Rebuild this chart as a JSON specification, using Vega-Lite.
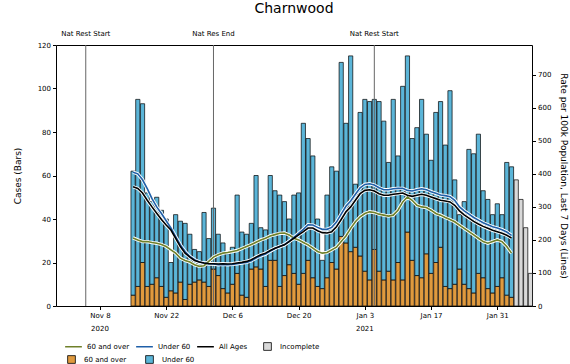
{
  "$schema": "https://vega.github.io/schema/vega-lite/v6.json",
  "width": 476,
  "height": 261,
  "autosize": "none",
  "padding": {"left": 56, "top": 45, "right": 38, "bottom": 58},
  "background": "white",
  "title": {"text": "Charnwood", "fontSize": 14, "fontWeight": "normal", "font": "DejaVu Sans", "anchor": "middle", "frame": "group", "offset": 3, "baseline": "alphabetic", "color": "black"},
  "config": {
    "font": "DejaVu Sans",
    "view": {"stroke": "black", "strokeWidth": 1},
    "axis": {"labelFontSize": 7, "titleFontSize": 9, "titleFontWeight": "normal", "labelColor": "black", "titleColor": "black", "tickColor": "black", "domain": false, "grid": false, "tickSize": 3.5, "labelPadding": 2},
    "legend": {"labelFontSize": 7, "labelColor": "black", "padding": 0, "labelOffset": 4}
  },
  "datasets": {
    "bars": [
      {"date":"2020-11-15T00:00","60 and over":5,"Under 60":57},
      {"date":"2020-11-16T00:00","60 and over":9,"Under 60":86},
      {"date":"2020-11-17T00:00","60 and over":20,"Under 60":73},
      {"date":"2020-11-18T00:00","60 and over":9,"Under 60":43},
      {"date":"2020-11-19T00:00","60 and over":10,"Under 60":38},
      {"date":"2020-11-20T00:00","60 and over":13,"Under 60":37},
      {"date":"2020-11-21T00:00","60 and over":9,"Under 60":35},
      {"date":"2020-11-22T00:00","60 and over":4,"Under 60":36},
      {"date":"2020-11-23T00:00","60 and over":7,"Under 60":13},
      {"date":"2020-11-24T00:00","60 and over":6,"Under 60":36},
      {"date":"2020-11-25T00:00","60 and over":11,"Under 60":28},
      {"date":"2020-11-26T00:00","60 and over":3,"Under 60":35},
      {"date":"2020-11-27T00:00","60 and over":10,"Under 60":23},
      {"date":"2020-11-28T00:00","60 and over":11,"Under 60":15},
      {"date":"2020-11-29T00:00","60 and over":12,"Under 60":13},
      {"date":"2020-11-30T00:00","60 and over":11,"Under 60":32},
      {"date":"2020-12-01T00:00","60 and over":9,"Under 60":22},
      {"date":"2020-12-02T00:00","60 and over":17,"Under 60":28},
      {"date":"2020-12-03T00:00","60 and over":14,"Under 60":19},
      {"date":"2020-12-04T00:00","60 and over":8,"Under 60":21},
      {"date":"2020-12-05T00:00","60 and over":6,"Under 60":18},
      {"date":"2020-12-06T00:00","60 and over":10,"Under 60":17},
      {"date":"2020-12-07T00:00","60 and over":15,"Under 60":36},
      {"date":"2020-12-08T00:00","60 and over":5,"Under 60":29},
      {"date":"2020-12-09T00:00","60 and over":4,"Under 60":29},
      {"date":"2020-12-10T00:00","60 and over":17,"Under 60":21},
      {"date":"2020-12-11T00:00","60 and over":18,"Under 60":42},
      {"date":"2020-12-12T00:00","60 and over":17,"Under 60":19},
      {"date":"2020-12-13T00:00","60 and over":9,"Under 60":26},
      {"date":"2020-12-14T00:00","60 and over":21,"Under 60":39},
      {"date":"2020-12-15T00:00","60 and over":21,"Under 60":32},
      {"date":"2020-12-16T00:00","60 and over":9,"Under 60":42},
      {"date":"2020-12-17T00:00","60 and over":14,"Under 60":34},
      {"date":"2020-12-18T00:00","60 and over":19,"Under 60":21},
      {"date":"2020-12-19T00:00","60 and over":15,"Under 60":36},
      {"date":"2020-12-20T00:00","60 and over":10,"Under 60":42},
      {"date":"2020-12-21T00:00","60 and over":15,"Under 60":69},
      {"date":"2020-12-22T00:00","60 and over":21,"Under 60":56},
      {"date":"2020-12-23T00:00","60 and over":13,"Under 60":56},
      {"date":"2020-12-24T00:00","60 and over":9,"Under 60":31},
      {"date":"2020-12-25T00:00","60 and over":8,"Under 60":13},
      {"date":"2020-12-26T00:00","60 and over":13,"Under 60":38},
      {"date":"2020-12-27T00:00","60 and over":20,"Under 60":44},
      {"date":"2020-12-28T00:00","60 and over":17,"Under 60":45},
      {"date":"2020-12-29T00:00","60 and over":32,"Under 60":80},
      {"date":"2020-12-30T00:00","60 and over":29,"Under 60":55},
      {"date":"2020-12-31T00:00","60 and over":25,"Under 60":90},
      {"date":"2021-01-01T00:00","60 and over":27,"Under 60":29},
      {"date":"2021-01-02T00:00","60 and over":23,"Under 60":66},
      {"date":"2021-01-03T00:00","60 and over":16,"Under 60":79},
      {"date":"2021-01-04T00:00","60 and over":12,"Under 60":82},
      {"date":"2021-01-05T00:00","60 and over":26,"Under 60":69},
      {"date":"2021-01-06T00:00","60 and over":16,"Under 60":78},
      {"date":"2021-01-07T00:00","60 and over":12,"Under 60":73},
      {"date":"2021-01-08T00:00","60 and over":16,"Under 60":50},
      {"date":"2021-01-09T00:00","60 and over":12,"Under 60":83},
      {"date":"2021-01-10T00:00","60 and over":20,"Under 60":49},
      {"date":"2021-01-11T00:00","60 and over":12,"Under 60":89},
      {"date":"2021-01-12T00:00","60 and over":34,"Under 60":81},
      {"date":"2021-01-13T00:00","60 and over":21,"Under 60":56},
      {"date":"2021-01-14T00:00","60 and over":14,"Under 60":68},
      {"date":"2021-01-15T00:00","60 and over":13,"Under 60":82},
      {"date":"2021-01-16T00:00","60 and over":24,"Under 60":55},
      {"date":"2021-01-17T00:00","60 and over":15,"Under 60":52},
      {"date":"2021-01-18T00:00","60 and over":20,"Under 60":69},
      {"date":"2021-01-19T00:00","60 and over":27,"Under 60":67},
      {"date":"2021-01-20T00:00","60 and over":9,"Under 60":65},
      {"date":"2021-01-21T00:00","60 and over":8,"Under 60":91},
      {"date":"2021-01-22T00:00","60 and over":10,"Under 60":48},
      {"date":"2021-01-23T00:00","60 and over":17,"Under 60":25},
      {"date":"2021-01-24T00:00","60 and over":10,"Under 60":38},
      {"date":"2021-01-25T00:00","60 and over":8,"Under 60":64},
      {"date":"2021-01-26T00:00","60 and over":6,"Under 60":64},
      {"date":"2021-01-27T00:00","60 and over":15,"Under 60":64},
      {"date":"2021-01-28T00:00","60 and over":13,"Under 60":40},
      {"date":"2021-01-29T00:00","60 and over":8,"Under 60":41},
      {"date":"2021-01-30T00:00","60 and over":6,"Under 60":36},
      {"date":"2021-01-31T00:00","60 and over":9,"Under 60":38},
      {"date":"2021-02-01T00:00","60 and over":13,"Under 60":29},
      {"date":"2021-02-02T00:00","60 and over":5,"Under 60":61},
      {"date":"2021-02-03T00:00","60 and over":4,"Under 60":60}
    ],
    "incomplete": [
      {"date":"2021-02-04T00:00","cases":58,"status":"Incomplete"},
      {"date":"2021-02-05T00:00","cases":49,"status":"Incomplete"},
      {"date":"2021-02-06T00:00","cases":36,"status":"Incomplete"},
      {"date":"2021-02-07T00:00","cases":15,"status":"Incomplete"}
    ],
    "events": [
      {"date":"2020-11-05T00:00","label":"Nat Rest Start"},
      {"date":"2020-12-02T00:00","label":"Nat Res End"},
      {"date":"2021-01-05T00:00","label":"Nat Rest Start"}
    ],
    "years": [
      {"date":"2020-11-08T00:00","label":"2020"},
      {"date":"2021-01-03T00:00","label":"2021"}
    ],
    "rates": [
      {"date":"2020-11-15T00:00","60 and over":206,"Under 60":405,"All Ages":361},
      {"date":"2020-11-16T00:00","60 and over":200,"Under 60":400,"All Ages":356},
      {"date":"2020-11-17T00:00","60 and over":195,"Under 60":382,"All Ages":342},
      {"date":"2020-11-18T00:00","60 and over":195,"Under 60":355,"All Ages":320},
      {"date":"2020-11-19T00:00","60 and over":192,"Under 60":325,"All Ages":300},
      {"date":"2020-11-20T00:00","60 and over":190,"Under 60":300,"All Ages":281},
      {"date":"2020-11-21T00:00","60 and over":186,"Under 60":280,"All Ages":262},
      {"date":"2020-11-22T00:00","60 and over":180,"Under 60":258,"All Ages":245},
      {"date":"2020-11-23T00:00","60 and over":170,"Under 60":236,"All Ages":230},
      {"date":"2020-11-24T00:00","60 and over":160,"Under 60":210,"All Ages":205},
      {"date":"2020-11-25T00:00","60 and over":145,"Under 60":185,"All Ages":180},
      {"date":"2020-11-26T00:00","60 and over":138,"Under 60":165,"All Ages":160},
      {"date":"2020-11-27T00:00","60 and over":133,"Under 60":150,"All Ages":148},
      {"date":"2020-11-28T00:00","60 and over":125,"Under 60":140,"All Ages":138},
      {"date":"2020-11-29T00:00","60 and over":120,"Under 60":133,"All Ages":133},
      {"date":"2020-11-30T00:00","60 and over":122,"Under 60":130,"All Ages":130},
      {"date":"2020-12-01T00:00","60 and over":135,"Under 60":128,"All Ages":128},
      {"date":"2020-12-02T00:00","60 and over":148,"Under 60":127,"All Ages":128},
      {"date":"2020-12-03T00:00","60 and over":155,"Under 60":125,"All Ages":127},
      {"date":"2020-12-04T00:00","60 and over":160,"Under 60":126,"All Ages":128},
      {"date":"2020-12-05T00:00","60 and over":162,"Under 60":125,"All Ages":127},
      {"date":"2020-12-06T00:00","60 and over":165,"Under 60":126,"All Ages":128},
      {"date":"2020-12-07T00:00","60 and over":168,"Under 60":128,"All Ages":130},
      {"date":"2020-12-08T00:00","60 and over":174,"Under 60":130,"All Ages":132},
      {"date":"2020-12-09T00:00","60 and over":180,"Under 60":132,"All Ages":135},
      {"date":"2020-12-10T00:00","60 and over":186,"Under 60":137,"All Ages":140},
      {"date":"2020-12-11T00:00","60 and over":193,"Under 60":145,"All Ages":148},
      {"date":"2020-12-12T00:00","60 and over":200,"Under 60":152,"All Ages":155},
      {"date":"2020-12-13T00:00","60 and over":205,"Under 60":157,"All Ages":160},
      {"date":"2020-12-14T00:00","60 and over":212,"Under 60":166,"All Ages":168},
      {"date":"2020-12-15T00:00","60 and over":216,"Under 60":174,"All Ages":175},
      {"date":"2020-12-16T00:00","60 and over":220,"Under 60":180,"All Ages":180},
      {"date":"2020-12-17T00:00","60 and over":221,"Under 60":186,"All Ages":185},
      {"date":"2020-12-18T00:00","60 and over":215,"Under 60":196,"All Ages":195},
      {"date":"2020-12-19T00:00","60 and over":205,"Under 60":208,"All Ages":205},
      {"date":"2020-12-20T00:00","60 and over":200,"Under 60":220,"All Ages":215},
      {"date":"2020-12-21T00:00","60 and over":192,"Under 60":232,"All Ages":225},
      {"date":"2020-12-22T00:00","60 and over":185,"Under 60":246,"All Ages":236},
      {"date":"2020-12-23T00:00","60 and over":175,"Under 60":245,"All Ages":236},
      {"date":"2020-12-24T00:00","60 and over":165,"Under 60":238,"All Ages":228},
      {"date":"2020-12-25T00:00","60 and over":160,"Under 60":232,"All Ages":222},
      {"date":"2020-12-26T00:00","60 and over":162,"Under 60":232,"All Ages":221},
      {"date":"2020-12-27T00:00","60 and over":170,"Under 60":238,"All Ages":225},
      {"date":"2020-12-28T00:00","60 and over":178,"Under 60":254,"All Ages":240},
      {"date":"2020-12-29T00:00","60 and over":195,"Under 60":278,"All Ages":262},
      {"date":"2020-12-30T00:00","60 and over":212,"Under 60":302,"All Ages":285},
      {"date":"2020-12-31T00:00","60 and over":235,"Under 60":318,"All Ages":300},
      {"date":"2021-01-01T00:00","60 and over":255,"Under 60":338,"All Ages":320},
      {"date":"2021-01-02T00:00","60 and over":270,"Under 60":358,"All Ages":340},
      {"date":"2021-01-03T00:00","60 and over":280,"Under 60":368,"All Ages":350},
      {"date":"2021-01-04T00:00","60 and over":285,"Under 60":370,"All Ages":352},
      {"date":"2021-01-05T00:00","60 and over":283,"Under 60":366,"All Ages":348},
      {"date":"2021-01-06T00:00","60 and over":278,"Under 60":358,"All Ages":340},
      {"date":"2021-01-07T00:00","60 and over":275,"Under 60":352,"All Ages":335},
      {"date":"2021-01-08T00:00","60 and over":272,"Under 60":352,"All Ages":335},
      {"date":"2021-01-09T00:00","60 and over":275,"Under 60":355,"All Ages":338},
      {"date":"2021-01-10T00:00","60 and over":290,"Under 60":356,"All Ages":340},
      {"date":"2021-01-11T00:00","60 and over":315,"Under 60":356,"All Ages":342},
      {"date":"2021-01-12T00:00","60 and over":330,"Under 60":350,"All Ages":335},
      {"date":"2021-01-13T00:00","60 and over":320,"Under 60":348,"All Ages":332},
      {"date":"2021-01-14T00:00","60 and over":305,"Under 60":352,"All Ages":335},
      {"date":"2021-01-15T00:00","60 and over":300,"Under 60":355,"All Ages":338},
      {"date":"2021-01-16T00:00","60 and over":298,"Under 60":352,"All Ages":335},
      {"date":"2021-01-17T00:00","60 and over":290,"Under 60":346,"All Ages":330},
      {"date":"2021-01-18T00:00","60 and over":280,"Under 60":341,"All Ages":325},
      {"date":"2021-01-19T00:00","60 and over":275,"Under 60":336,"All Ages":320},
      {"date":"2021-01-20T00:00","60 and over":268,"Under 60":334,"All Ages":318},
      {"date":"2021-01-21T00:00","60 and over":262,"Under 60":331,"All Ages":315},
      {"date":"2021-01-22T00:00","60 and over":255,"Under 60":320,"All Ages":305},
      {"date":"2021-01-23T00:00","60 and over":245,"Under 60":300,"All Ages":288},
      {"date":"2021-01-24T00:00","60 and over":235,"Under 60":288,"All Ages":276},
      {"date":"2021-01-25T00:00","60 and over":225,"Under 60":278,"All Ages":266},
      {"date":"2021-01-26T00:00","60 and over":215,"Under 60":268,"All Ages":256},
      {"date":"2021-01-27T00:00","60 and over":205,"Under 60":260,"All Ages":248},
      {"date":"2021-01-28T00:00","60 and over":195,"Under 60":252,"All Ages":241},
      {"date":"2021-01-29T00:00","60 and over":190,"Under 60":246,"All Ages":235},
      {"date":"2021-01-30T00:00","60 and over":195,"Under 60":240,"All Ages":229},
      {"date":"2021-01-31T00:00","60 and over":200,"Under 60":236,"All Ages":225},
      {"date":"2021-02-01T00:00","60 and over":195,"Under 60":231,"All Ages":220},
      {"date":"2021-02-02T00:00","60 and over":180,"Under 60":224,"All Ages":214},
      {"date":"2021-02-03T00:00","60 and over":160,"Under 60":214,"All Ages":206}
    ]
  },
  "layer": [
    {
      "data": {"name": "bars"},
      "transform": [{"fold": ["60 and over", "Under 60"], "as": ["group", "cases"]}],
      "mark": {"type": "bar", "size": 4.2, "stroke": "black", "strokeWidth": 0.7},
      "encoding": {
        "x": {
          "field": "date", "type": "temporal",
          "scale": {"domain": [{"year": 2020, "month": 10, "date": 29, "hours": 17}, {"year": 2021, "month": 2, "date": 7, "hours": 8}], "padding": 0},
          "axis": {
            "title": null,
            "orient": "bottom",
            "values": [
              {"year": 2020, "month": 11, "date": 8},
              {"year": 2020, "month": 11, "date": 22},
              {"year": 2020, "month": 12, "date": 6},
              {"year": 2020, "month": 12, "date": 20},
              {"year": 2021, "month": 1, "date": 3},
              {"year": 2021, "month": 1, "date": 17},
              {"year": 2021, "month": 1, "date": 31}
            ],
            "format": "%b %-d",
            "labelOverlap": false
          }
        },
        "y": {
          "field": "cases", "type": "quantitative", "stack": "zero",
          "scale": {"domain": [0, 120], "nice": false},
          "axis": {"title": "Cases (Bars)", "orient": "left", "values": [0, 20, 40, 60, 80, 100, 120], "titlePadding": 15}
        },
        "fill": {
          "field": "group", "type": "nominal",
          "scale": {"domain": ["60 and over", "Under 60"], "range": ["#e09a3e", "#5bb5d8"]},
          "legend": {"orient": "none", "legendX": 11, "legendY": 310, "direction": "horizontal", "title": null, "symbolType": "square", "symbolSize": 60, "symbolStrokeColor": "black", "symbolStrokeWidth": 0.8, "labelOffset": 8, "columnPadding": 17}
        },
        "order": {"field": "group", "sort": "ascending"}
      }
    },
    {
      "data": {"name": "incomplete"},
      "mark": {"type": "bar", "size": 4.2, "stroke": "black", "strokeWidth": 0.7},
      "encoding": {
        "x": {"field": "date", "type": "temporal"},
        "y": {"field": "cases", "type": "quantitative", "scale": {"domain": [0, 120], "nice": false}, "axis": null},
        "fill": {
          "field": "status", "type": "nominal",
          "scale": {"domain": ["Incomplete"], "range": ["#d9d9d9"]},
          "legend": {"orient": "none", "legendX": 207, "legendY": 297, "direction": "horizontal", "title": null, "symbolType": "square", "symbolSize": 60, "symbolStrokeColor": "black", "symbolStrokeWidth": 0.8, "labelOffset": 8}
        }
      }
    },
    {
      "data": {"name": "events"},
      "mark": {"type": "rule", "color": "#666666", "strokeWidth": 1},
      "encoding": {"x": {"field": "date", "type": "temporal"}}
    },
    {
      "data": {"name": "events"},
      "mark": {"type": "text", "fontSize": 7, "baseline": "alphabetic", "dy": -9, "color": "black"},
      "encoding": {
        "x": {"field": "date", "type": "temporal"},
        "y": {"datum": 120, "type": "quantitative", "scale": {"domain": [0, 120], "nice": false}, "axis": null},
        "text": {"field": "label"}
      }
    },
    {
      "data": {"name": "years"},
      "mark": {"type": "text", "fontSize": 7, "baseline": "alphabetic", "dy": 25, "color": "black"},
      "encoding": {
        "x": {"field": "date", "type": "temporal"},
        "y": {"datum": 0, "type": "quantitative", "scale": {"domain": [0, 120], "nice": false}, "axis": null},
        "text": {"field": "label"}
      }
    },
    {
      "data": {"name": "rates"},
      "transform": [{"fold": ["60 and over", "Under 60", "All Ages"], "as": ["series", "rate"]}],
      "mark": {"type": "line", "stroke": "white", "strokeWidth": 3.4},
      "encoding": {
        "x": {"field": "date", "type": "temporal"},
        "y": {"field": "rate", "type": "quantitative", "scale": {"domain": [0, 790], "nice": false}, "axis": null},
        "detail": {"field": "series", "type": "nominal"}
      }
    },
    {
      "data": {"name": "rates"},
      "transform": [{"fold": ["60 and over", "Under 60", "All Ages"], "as": ["series", "rate"]}],
      "mark": {"type": "line", "strokeWidth": 1.6},
      "encoding": {
        "x": {"field": "date", "type": "temporal"},
        "y": {
          "field": "rate", "type": "quantitative",
          "scale": {"domain": [0, 790], "nice": false},
          "axis": {"orient": "right", "title": "Rate per 100k Population, Last 7 Days (Lines)", "values": [0, 100, 200, 300, 400, 500, 600, 700], "titlePadding": 8}
        },
        "stroke": {
          "field": "series", "type": "nominal",
          "scale": {"domain": ["60 and over", "Under 60", "All Ages"], "range": ["#6f802a", "#1f5fa8", "#000000"]},
          "legend": {"orient": "none", "legendX": 8, "legendY": 292, "direction": "horizontal", "title": null, "symbolType": "stroke", "symbolSize": 280, "symbolStrokeWidth": 1.5, "columnPadding": 3}
        }
      }
    }
  ],
  "resolve": {"scale": {"y": "independent", "fill": "independent"}}
}
